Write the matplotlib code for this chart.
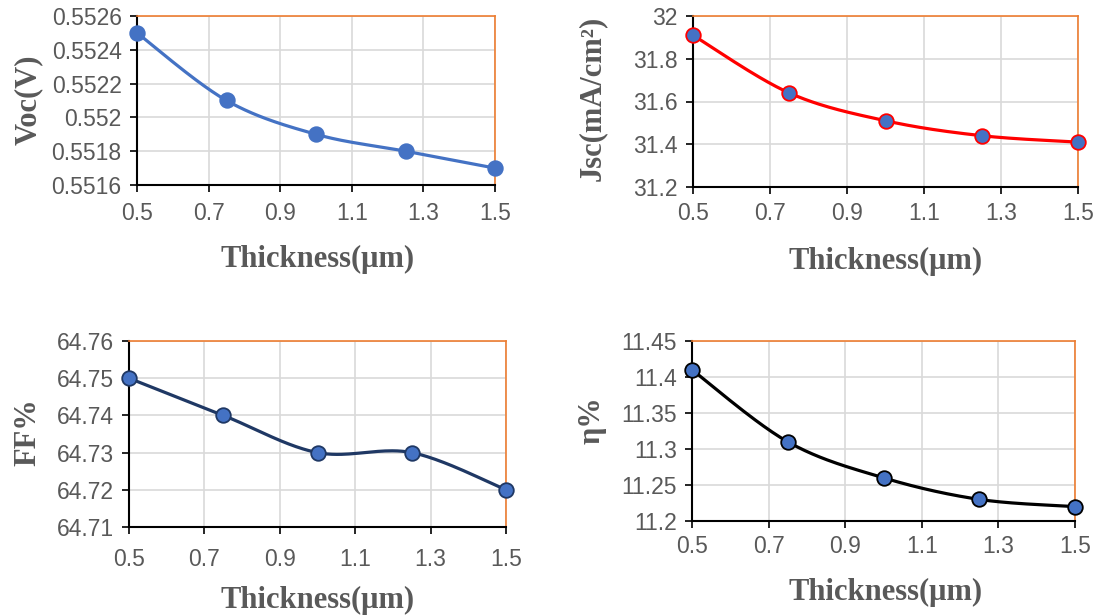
import matplotlib
matplotlib.use("Agg")
import matplotlib.pyplot as plt
import numpy as np

# ---------------------------------------------------------------------------
# Data
# ---------------------------------------------------------------------------
thickness = [0.5, 0.75, 1.0, 1.25, 1.5]
voc = [0.5525, 0.5521, 0.5519, 0.5518, 0.5517]
jsc = [31.91, 31.64, 31.51, 31.44, 31.41]
ff = [64.75, 64.74, 64.73, 64.73, 64.72]
eta = [11.41, 11.31, 11.26, 11.23, 11.22]

x_ticks = [0.5, 0.7, 0.9, 1.1, 1.3, 1.5]
voc_ticks = [0.5516, 0.5518, 0.552, 0.5522, 0.5524, 0.5526]
jsc_ticks = [31.2, 31.4, 31.6, 31.8, 32]
ff_ticks = [64.71, 64.72, 64.73, 64.74, 64.75, 64.76]
eta_ticks = [11.2, 11.25, 11.3, 11.35, 11.4, 11.45]

GRAY = "#595959"
ORANGE = "#ED7D31"
BLUE = "#4472C4"

W, H = 1094, 616


def smooth(xs, ys, n=40):
    """Excel-like smoothed line (Catmull-Rom as cubic Bezier)."""
    px = np.array(xs, float)
    py = np.array(ys, float)
    ext_x = np.concatenate([[px[0]], px, [px[-1]]])
    ext_y = np.concatenate([[py[0]], py, [py[-1]]])
    out_x, out_y = [], []
    t = np.linspace(0, 1, n)
    for i in range(len(px) - 1):
        p0x, p0y = ext_x[i + 1], ext_y[i + 1]
        p3x, p3y = ext_x[i + 2], ext_y[i + 2]
        c1x = p0x + (ext_x[i + 2] - ext_x[i]) / 6
        c1y = p0y + (ext_y[i + 2] - ext_y[i]) / 6
        c2x = p3x - (ext_x[i + 3] - ext_x[i + 1]) / 6
        c2y = p3y - (ext_y[i + 3] - ext_y[i + 1]) / 6
        bx = (1 - t) ** 3 * p0x + 3 * (1 - t) ** 2 * t * c1x + 3 * (1 - t) * t ** 2 * c2x + t ** 3 * p3x
        by = (1 - t) ** 3 * p0y + 3 * (1 - t) ** 2 * t * c1y + 3 * (1 - t) * t ** 2 * c2y + t ** 3 * p3y
        out_x.extend(bx)
        out_y.extend(by)
    return out_x, out_y


def make_axes(fig, left, right, top, bottom):
    return fig.add_axes([left / W, 1 - bottom / H, (right - left) / W, (bottom - top) / H])


def style(ax, yticks, fmt, xpad):
    ax.set_xlim(0.5, 1.5)
    ax.set_ylim(yticks[0], yticks[-1])
    ax.set_xticks(x_ticks)
    ax.set_xticklabels([f"{v:g}" for v in x_ticks])
    ax.set_yticks(yticks)
    ax.set_yticklabels([fmt(v) for v in yticks])
    ax.grid(True, color="#d9d9d9", linewidth=1.2, zorder=0)
    ax.set_axisbelow(True)
    for s in ("top", "right"):
        ax.spines[s].set_color(ORANGE)
        ax.spines[s].set_linewidth(1.2)
    for s in ("left", "bottom"):
        ax.spines[s].set_color("black")
        ax.spines[s].set_linewidth(1.5)
    ax.tick_params(axis="both", direction="out", length=5, width=1.2, color="black",
                   labelcolor=GRAY, labelsize=16.5)
    ax.tick_params(axis="y", pad=6)
    ax.tick_params(axis="x", pad=xpad)
    for lab in ax.get_xticklabels() + ax.get_yticklabels():
        lab.set_family("Liberation Sans")


def plot_series(ax, ys, line_color, edge_color):
    sx, sy = smooth(thickness, ys)
    ax.plot(sx, sy, color=line_color, linewidth=2.3, zorder=3, clip_on=False)
    ax.plot(thickness, ys, linestyle="none", marker="o", markersize=10.5,
            markerfacecolor=BLUE, markeredgecolor=edge_color, markeredgewidth=1.3,
            zorder=4, clip_on=False)


label_font = dict(family="Liberation Serif", fontweight="bold", color=GRAY, fontsize=22)

fig = plt.figure(figsize=(W / 100, H / 100), dpi=100)

# Voc
ax1 = make_axes(fig, 137, 495, 16, 185)
plot_series(ax1, voc, BLUE, BLUE)
style(ax1, voc_ticks, lambda v: f"{v:g}", 7)
fig.text(28 / W, 1 - 100 / H, "Voc(V)", rotation=90, ha="center", va="center", **label_font)
fig.text(318 / W, 1 - 259 / H, "Thickness(μm)", ha="center", va="center", **label_font)

# Jsc
ax2 = make_axes(fig, 693, 1078, 16, 187)
plot_series(ax2, jsc, "#FF0000", "#FF0000")
style(ax2, jsc_ticks, lambda v: f"{v:g}", 6)
fig.text(592 / W, 1 - 98 / H, "Jsc(mA/cm²)", rotation=90, ha="center", va="center",
         **label_font)
fig.text(886 / W, 1 - 261 / H, "Thickness(μm)", ha="center", va="center", **label_font)

# FF
ax3 = make_axes(fig, 129, 506, 341, 527)
plot_series(ax3, ff, "#1F3864", "#1F3864")
style(ax3, ff_ticks, lambda v: f"{v:.2f}", 10)
fig.text(28 / W, 1 - 432 / H, "FF%", rotation=90, ha="center", va="center", **label_font)
fig.text(318 / W, 1 - 600 / H, "Thickness(μm)", ha="center", va="center", **label_font)

# eta
ax4 = make_axes(fig, 692, 1075, 341, 521)
plot_series(ax4, eta, "black", "black")
style(ax4, eta_ticks, lambda v: f"{v:g}", 5)
fig.text(592 / W, 1 - 420 / H, "η%", rotation=90, ha="center", va="center", **label_font)
fig.text(886 / W, 1 - 592 / H, "Thickness(μm)", ha="center", va="center", **label_font)

fig.savefig("out.png", dpi=100, facecolor="white")
